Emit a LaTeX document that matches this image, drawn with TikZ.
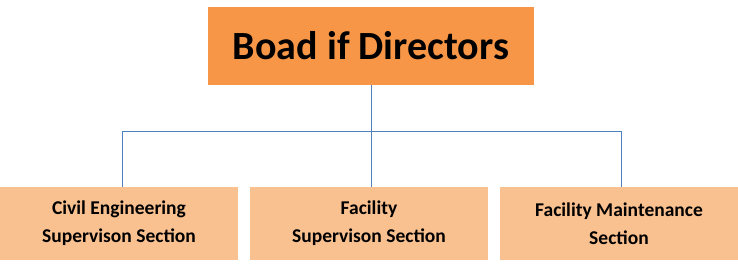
\documentclass[tikz,border=0pt]{standalone}
\usepackage{fontspec}
\setmainfont{Carlito}
\usepackage{xcolor}
\usepackage{tikz}
\definecolor{boardorange}{HTML}{F79646}
\definecolor{sectionorange}{HTML}{F9C090}
\definecolor{linkblue}{HTML}{4F81BD}
\tikzset{
  board/.style={fill=boardorange, draw=none, inner sep=0pt, minimum width=326, minimum height=78,
    font=\fontsize{40}{42}\selectfont\bfseries},
  section/.style={fill=sectionorange, draw=none, inner sep=0pt, minimum width=238, minimum height=73,
    align=center, font=\fontsize{19.5}{28}\selectfont\bfseries},
  link/.style={draw=linkblue, line width=0.9pt}
}

\begin{document}
\begin{tikzpicture}[x=1pt,y=1pt]
\useasboundingbox (0,0) rectangle (738,269);
\node[board] (board) at (371,223) {Boad if Directors};
\node[section] (civil) at (119,45.5) {Civil Engineering\\Supervison Section};
\node[section] (facsup) at (369,45.5) {Facility\\Supervison Section};
\node[section] (facmain) at (619,45.5) {Facility Maintenance\\Section};
\coordinate (bus) at (371,138);
\draw[link] (board.south) -- (bus);
\draw[link] (bus) -| ([xshift=3pt]civil.north);
\draw[link] (bus) -| ([xshift=2pt]facsup.north);
\draw[link] (bus) -| ([xshift=2pt]facmain.north);
\end{tikzpicture}
\end{document}
